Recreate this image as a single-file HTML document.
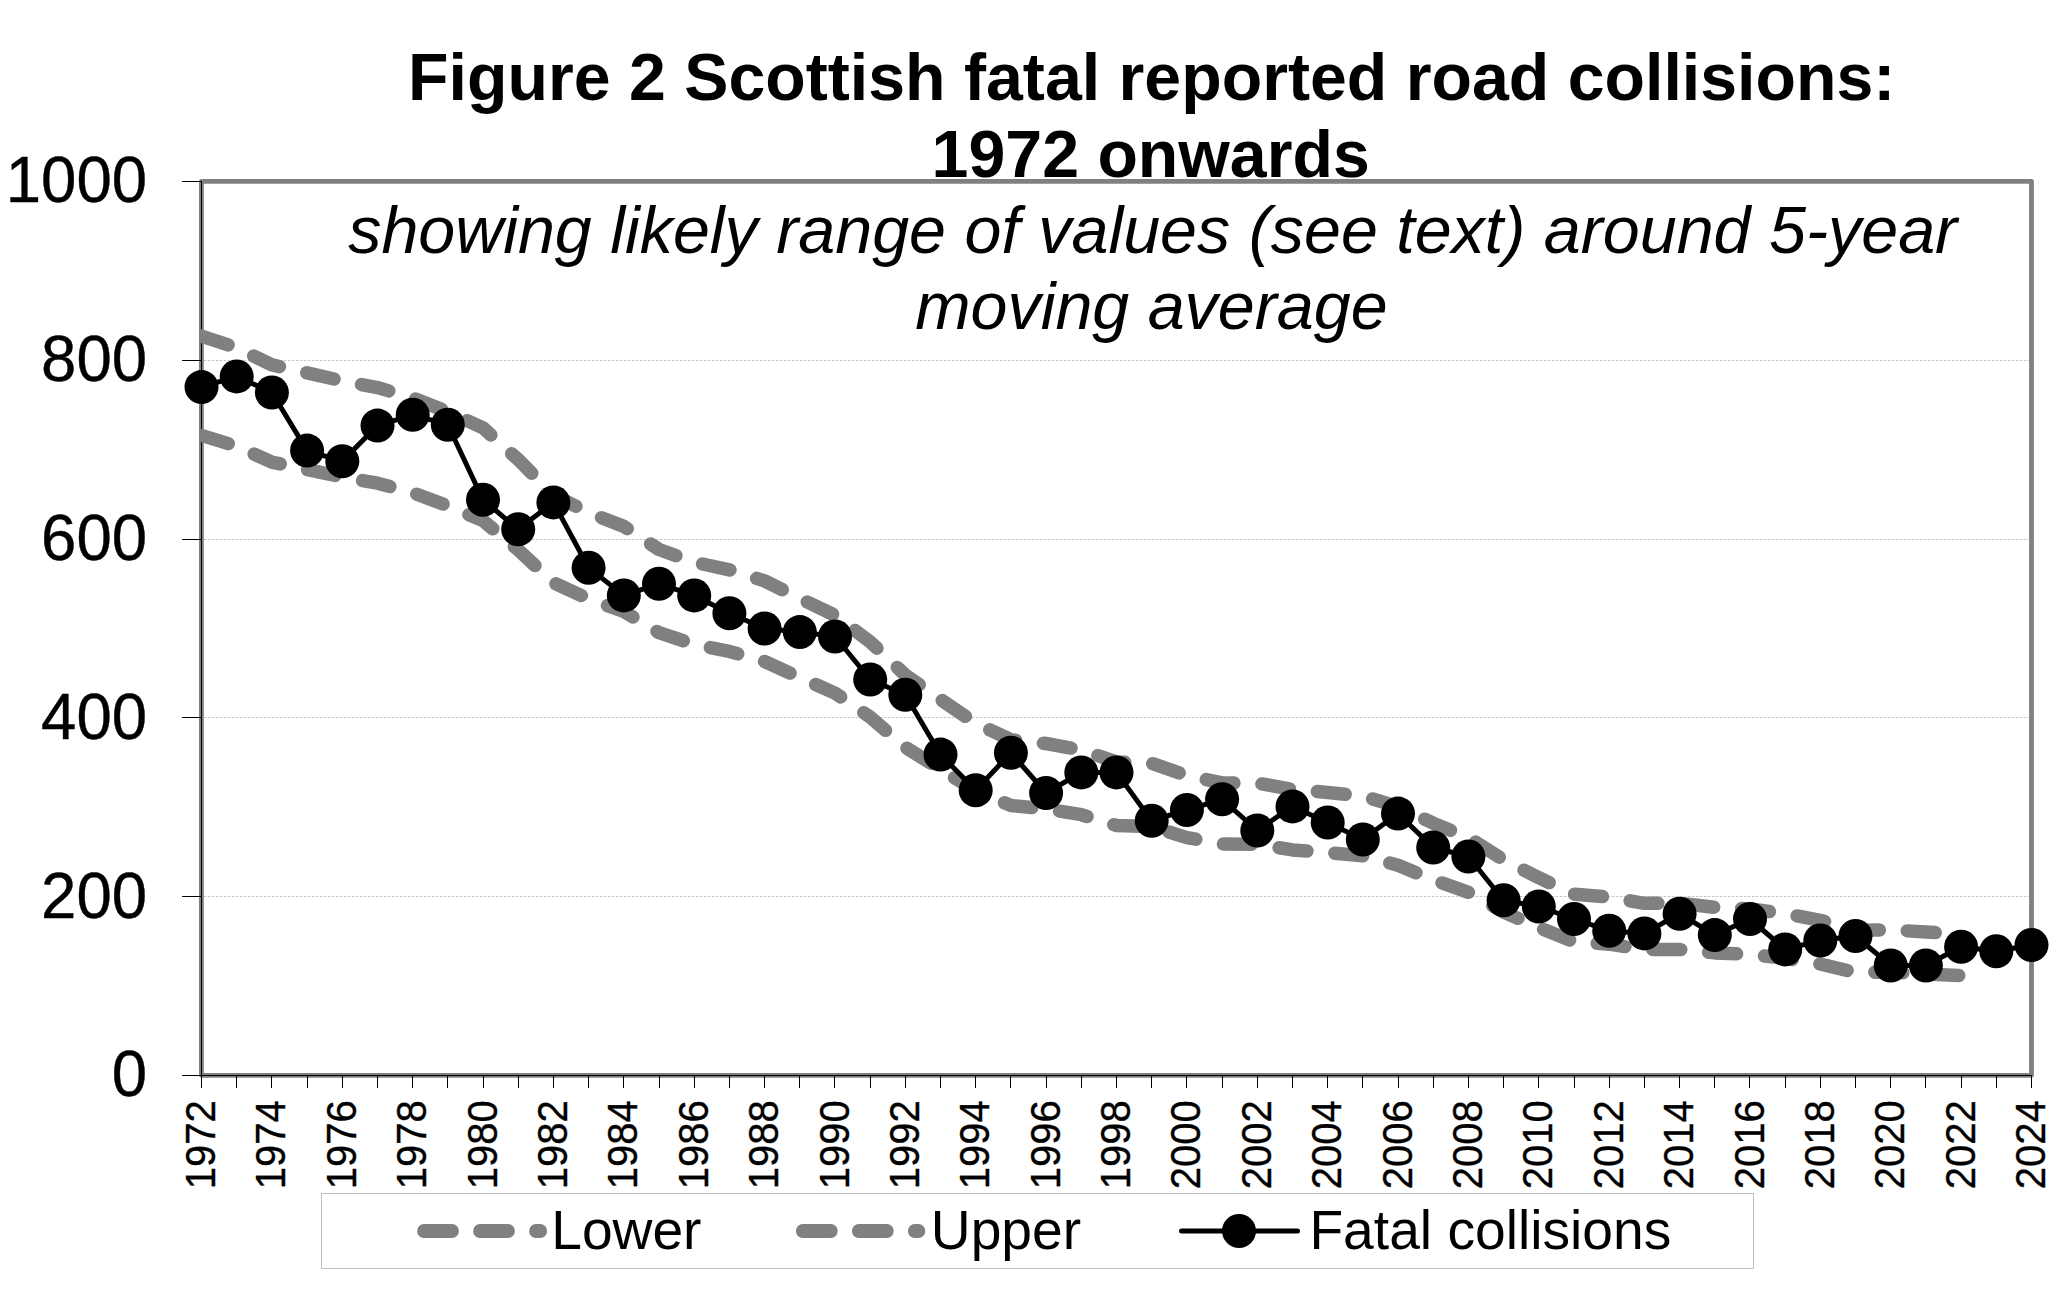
<!DOCTYPE html>
<html><head><meta charset="utf-8"><title>Figure 2 Scottish fatal reported road collisions</title>
<style>html,body{margin:0;padding:0;background:#fff}svg{display:block}text{font-family:"Liberation Sans",Arial,sans-serif;fill:#000}</style>
</head><body>
<svg width="2068" height="1307" viewBox="0 0 2068 1307">
<rect width="2068" height="1307" fill="#fff"/>
<defs><clipPath id="pa"><rect x="199" y="179" width="1835" height="899"/></clipPath></defs>
<text x="1151.7" y="100" font-size="66.25" font-weight="bold" text-anchor="middle">Figure 2 Scottish fatal reported road collisions:</text>
<text x="1150.7" y="176.7" font-size="66.25" font-weight="bold" text-anchor="middle">1972 onwards</text>
<rect x="201.4" y="181.4" width="1830.1" height="893.9" fill="none" stroke="#808080" stroke-width="4.8" stroke-linejoin="round"/>
<line x1="204" x2="2029" y1="896.5" y2="896.5" stroke="#f0f0f0" stroke-width="1"/>
<line x1="204" x2="2029" y1="896.5" y2="896.5" stroke="#c6c6c6" stroke-width="1" stroke-dasharray="2 2"/>
<line x1="204" x2="2029" y1="717.5" y2="717.5" stroke="#f0f0f0" stroke-width="1"/>
<line x1="204" x2="2029" y1="717.5" y2="717.5" stroke="#c6c6c6" stroke-width="1" stroke-dasharray="2 2"/>
<line x1="204" x2="2029" y1="539.5" y2="539.5" stroke="#f0f0f0" stroke-width="1"/>
<line x1="204" x2="2029" y1="539.5" y2="539.5" stroke="#c6c6c6" stroke-width="1" stroke-dasharray="2 2"/>
<line x1="204" x2="2029" y1="360.5" y2="360.5" stroke="#f0f0f0" stroke-width="1"/>
<line x1="204" x2="2029" y1="360.5" y2="360.5" stroke="#c6c6c6" stroke-width="1" stroke-dasharray="2 2"/>
<text x="1152.7" y="252.5" font-size="66.4" font-style="italic" text-anchor="middle">showing likely range of values (see text) around 5-year</text>
<text x="1151.4" y="329.2" font-size="66.4" font-style="italic" text-anchor="middle">moving average</text>
<g stroke="#000" stroke-width="1" shape-rendering="crispEdges">
<line x1="201.5" x2="201.5" y1="181" y2="1076"/>
<line x1="182" x2="2032" y1="1075.5" y2="1075.5"/>
<line x1="182" x2="201" y1="1075.5" y2="1075.5"/>
<line x1="182" x2="201" y1="896.5" y2="896.5"/>
<line x1="182" x2="201" y1="717.5" y2="717.5"/>
<line x1="182" x2="201" y1="539.5" y2="539.5"/>
<line x1="182" x2="201" y1="360.5" y2="360.5"/>
<line x1="182" x2="201" y1="181.5" y2="181.5"/>
<line x1="201.5" x2="201.5" y1="1076" y2="1088"/>
<line x1="236.5" x2="236.5" y1="1076" y2="1088"/>
<line x1="271.5" x2="271.5" y1="1076" y2="1088"/>
<line x1="307.5" x2="307.5" y1="1076" y2="1088"/>
<line x1="342.5" x2="342.5" y1="1076" y2="1088"/>
<line x1="377.5" x2="377.5" y1="1076" y2="1088"/>
<line x1="412.5" x2="412.5" y1="1076" y2="1088"/>
<line x1="447.5" x2="447.5" y1="1076" y2="1088"/>
<line x1="483.5" x2="483.5" y1="1076" y2="1088"/>
<line x1="518.5" x2="518.5" y1="1076" y2="1088"/>
<line x1="553.5" x2="553.5" y1="1076" y2="1088"/>
<line x1="588.5" x2="588.5" y1="1076" y2="1088"/>
<line x1="623.5" x2="623.5" y1="1076" y2="1088"/>
<line x1="659.5" x2="659.5" y1="1076" y2="1088"/>
<line x1="694.5" x2="694.5" y1="1076" y2="1088"/>
<line x1="729.5" x2="729.5" y1="1076" y2="1088"/>
<line x1="764.5" x2="764.5" y1="1076" y2="1088"/>
<line x1="799.5" x2="799.5" y1="1076" y2="1088"/>
<line x1="834.5" x2="834.5" y1="1076" y2="1088"/>
<line x1="870.5" x2="870.5" y1="1076" y2="1088"/>
<line x1="905.5" x2="905.5" y1="1076" y2="1088"/>
<line x1="940.5" x2="940.5" y1="1076" y2="1088"/>
<line x1="975.5" x2="975.5" y1="1076" y2="1088"/>
<line x1="1010.5" x2="1010.5" y1="1076" y2="1088"/>
<line x1="1046.5" x2="1046.5" y1="1076" y2="1088"/>
<line x1="1081.5" x2="1081.5" y1="1076" y2="1088"/>
<line x1="1116.5" x2="1116.5" y1="1076" y2="1088"/>
<line x1="1151.5" x2="1151.5" y1="1076" y2="1088"/>
<line x1="1186.5" x2="1186.5" y1="1076" y2="1088"/>
<line x1="1222.5" x2="1222.5" y1="1076" y2="1088"/>
<line x1="1257.5" x2="1257.5" y1="1076" y2="1088"/>
<line x1="1292.5" x2="1292.5" y1="1076" y2="1088"/>
<line x1="1327.5" x2="1327.5" y1="1076" y2="1088"/>
<line x1="1362.5" x2="1362.5" y1="1076" y2="1088"/>
<line x1="1398.5" x2="1398.5" y1="1076" y2="1088"/>
<line x1="1433.5" x2="1433.5" y1="1076" y2="1088"/>
<line x1="1468.5" x2="1468.5" y1="1076" y2="1088"/>
<line x1="1503.5" x2="1503.5" y1="1076" y2="1088"/>
<line x1="1538.5" x2="1538.5" y1="1076" y2="1088"/>
<line x1="1574.5" x2="1574.5" y1="1076" y2="1088"/>
<line x1="1609.5" x2="1609.5" y1="1076" y2="1088"/>
<line x1="1644.5" x2="1644.5" y1="1076" y2="1088"/>
<line x1="1679.5" x2="1679.5" y1="1076" y2="1088"/>
<line x1="1714.5" x2="1714.5" y1="1076" y2="1088"/>
<line x1="1749.5" x2="1749.5" y1="1076" y2="1088"/>
<line x1="1785.5" x2="1785.5" y1="1076" y2="1088"/>
<line x1="1820.5" x2="1820.5" y1="1076" y2="1088"/>
<line x1="1855.5" x2="1855.5" y1="1076" y2="1088"/>
<line x1="1890.5" x2="1890.5" y1="1076" y2="1088"/>
<line x1="1925.5" x2="1925.5" y1="1076" y2="1088"/>
<line x1="1961.5" x2="1961.5" y1="1076" y2="1088"/>
<line x1="1996.5" x2="1996.5" y1="1076" y2="1088"/>
<line x1="2031.5" x2="2031.5" y1="1076" y2="1088"/>
</g>
<text transform="translate(147,1096.3) scale(1,1.03)" font-size="63.5" text-anchor="end" stroke="#000" stroke-width="0.4">0</text>
<text transform="translate(147,917.5) scale(1,1.03)" font-size="63.5" text-anchor="end" stroke="#000" stroke-width="0.4">200</text>
<text transform="translate(147,738.7) scale(1,1.03)" font-size="63.5" text-anchor="end" stroke="#000" stroke-width="0.4">400</text>
<text transform="translate(147,559.9) scale(1,1.03)" font-size="63.5" text-anchor="end" stroke="#000" stroke-width="0.4">600</text>
<text transform="translate(147,381.1) scale(1,1.03)" font-size="63.5" text-anchor="end" stroke="#000" stroke-width="0.4">800</text>
<text transform="translate(147,202.3) scale(1,1.03)" font-size="63.5" text-anchor="end" stroke="#000" stroke-width="0.4">1000</text>
<text transform="translate(215.0,1100.3) rotate(-90) scale(1,1.04)" font-size="40" text-anchor="end" stroke="#000" stroke-width="0.35">1972</text>
<text transform="translate(285.4,1100.3) rotate(-90) scale(1,1.04)" font-size="40" text-anchor="end" stroke="#000" stroke-width="0.35">1974</text>
<text transform="translate(355.8,1100.3) rotate(-90) scale(1,1.04)" font-size="40" text-anchor="end" stroke="#000" stroke-width="0.35">1976</text>
<text transform="translate(426.2,1100.3) rotate(-90) scale(1,1.04)" font-size="40" text-anchor="end" stroke="#000" stroke-width="0.35">1978</text>
<text transform="translate(496.5,1100.3) rotate(-90) scale(1,1.04)" font-size="40" text-anchor="end" stroke="#000" stroke-width="0.35">1980</text>
<text transform="translate(566.9,1100.3) rotate(-90) scale(1,1.04)" font-size="40" text-anchor="end" stroke="#000" stroke-width="0.35">1982</text>
<text transform="translate(637.3,1100.3) rotate(-90) scale(1,1.04)" font-size="40" text-anchor="end" stroke="#000" stroke-width="0.35">1984</text>
<text transform="translate(707.7,1100.3) rotate(-90) scale(1,1.04)" font-size="40" text-anchor="end" stroke="#000" stroke-width="0.35">1986</text>
<text transform="translate(778.1,1100.3) rotate(-90) scale(1,1.04)" font-size="40" text-anchor="end" stroke="#000" stroke-width="0.35">1988</text>
<text transform="translate(848.5,1100.3) rotate(-90) scale(1,1.04)" font-size="40" text-anchor="end" stroke="#000" stroke-width="0.35">1990</text>
<text transform="translate(918.8,1100.3) rotate(-90) scale(1,1.04)" font-size="40" text-anchor="end" stroke="#000" stroke-width="0.35">1992</text>
<text transform="translate(989.2,1100.3) rotate(-90) scale(1,1.04)" font-size="40" text-anchor="end" stroke="#000" stroke-width="0.35">1994</text>
<text transform="translate(1059.6,1100.3) rotate(-90) scale(1,1.04)" font-size="40" text-anchor="end" stroke="#000" stroke-width="0.35">1996</text>
<text transform="translate(1130.0,1100.3) rotate(-90) scale(1,1.04)" font-size="40" text-anchor="end" stroke="#000" stroke-width="0.35">1998</text>
<text transform="translate(1200.4,1100.3) rotate(-90) scale(1,1.04)" font-size="40" text-anchor="end" stroke="#000" stroke-width="0.35">2000</text>
<text transform="translate(1270.8,1100.3) rotate(-90) scale(1,1.04)" font-size="40" text-anchor="end" stroke="#000" stroke-width="0.35">2002</text>
<text transform="translate(1341.2,1100.3) rotate(-90) scale(1,1.04)" font-size="40" text-anchor="end" stroke="#000" stroke-width="0.35">2004</text>
<text transform="translate(1411.5,1100.3) rotate(-90) scale(1,1.04)" font-size="40" text-anchor="end" stroke="#000" stroke-width="0.35">2006</text>
<text transform="translate(1481.9,1100.3) rotate(-90) scale(1,1.04)" font-size="40" text-anchor="end" stroke="#000" stroke-width="0.35">2008</text>
<text transform="translate(1552.3,1100.3) rotate(-90) scale(1,1.04)" font-size="40" text-anchor="end" stroke="#000" stroke-width="0.35">2010</text>
<text transform="translate(1622.7,1100.3) rotate(-90) scale(1,1.04)" font-size="40" text-anchor="end" stroke="#000" stroke-width="0.35">2012</text>
<text transform="translate(1693.1,1100.3) rotate(-90) scale(1,1.04)" font-size="40" text-anchor="end" stroke="#000" stroke-width="0.35">2014</text>
<text transform="translate(1763.5,1100.3) rotate(-90) scale(1,1.04)" font-size="40" text-anchor="end" stroke="#000" stroke-width="0.35">2016</text>
<text transform="translate(1833.8,1100.3) rotate(-90) scale(1,1.04)" font-size="40" text-anchor="end" stroke="#000" stroke-width="0.35">2018</text>
<text transform="translate(1904.2,1100.3) rotate(-90) scale(1,1.04)" font-size="40" text-anchor="end" stroke="#000" stroke-width="0.35">2020</text>
<text transform="translate(1974.6,1100.3) rotate(-90) scale(1,1.04)" font-size="40" text-anchor="end" stroke="#000" stroke-width="0.35">2022</text>
<text transform="translate(2045.0,1100.3) rotate(-90) scale(1,1.04)" font-size="40" text-anchor="end" stroke="#000" stroke-width="0.35">2024</text>
<g clip-path="url(#pa)" fill="none" stroke="#808080" stroke-width="13.5" stroke-linecap="round" stroke-linejoin="round" stroke-dasharray="28 28">
<polyline points="201.5,435.4 236.7,446.2 271.9,462.2 307.1,469.6 342.3,477.0 377.5,483.2 412.7,492.7 447.8,505.8 483.0,520.6 518.2,549.9 553.4,582.7 588.6,598.8 623.8,611.5 659.0,632.7 694.2,644.4 729.4,651.4 764.6,661.5 799.8,677.5 835.0,693.1 870.2,717.1 905.3,747.2 940.5,769.3 975.7,790.8 1010.9,805.5 1046.1,808.9 1081.3,814.7 1116.5,825.5 1151.7,826.6 1186.9,837.6 1222.1,844.0 1257.3,844.3 1292.5,849.9 1327.7,852.6 1362.8,855.8 1398.0,865.2 1433.2,879.8 1468.4,892.3 1503.6,912.0 1538.8,927.5 1574.0,941.7 1609.2,944.2 1644.4,949.5 1679.6,949.5 1714.8,952.9 1750.0,954.3 1785.2,958.4 1820.3,964.0 1855.5,972.5 1890.7,972.0 1925.9,974.0 1961.1,975.6"/>
<polyline points="201.5,336.1 236.7,347.7 271.9,364.9 307.1,372.9 342.3,380.9 377.5,387.6 412.7,397.8 447.8,411.9 483.0,427.8 518.2,459.6 553.4,495.1 588.6,512.6 623.8,526.4 659.0,549.5 694.2,562.2 729.4,569.8 764.6,580.9 799.8,598.4 835.0,615.4 870.2,641.8 905.3,675.0 940.5,699.4 975.7,723.3 1010.9,739.7 1046.1,743.5 1081.3,749.9 1116.5,762.0 1151.7,763.3 1186.9,775.6 1222.1,782.8 1257.3,783.1 1292.5,789.4 1327.7,792.4 1362.8,796.0 1398.0,806.6 1433.2,823.2 1468.4,837.4 1503.6,859.9 1538.8,877.7 1574.0,894.2 1609.2,897.1 1644.4,903.3 1679.6,903.3 1714.8,907.3 1750.0,908.9 1785.2,913.7 1820.3,920.3 1855.5,930.3 1890.7,929.8 1925.9,932.1 1961.1,934.0"/>
</g>
<polyline points="201.5,387.1 236.7,376.4 271.9,392.5 307.1,450.6 342.3,461.3 377.5,425.6 412.7,414.8 447.8,424.7 483.0,499.8 518.2,529.3 553.4,502.4 588.6,567.7 623.8,595.4 659.0,583.8 694.2,595.4 729.4,613.3 764.6,628.5 799.8,632.1 835.0,636.5 870.2,679.5 905.3,694.7 940.5,754.6 975.7,790.3 1010.9,752.8 1046.1,793.0 1081.3,772.4 1116.5,772.4 1151.7,820.7 1186.9,810.0 1222.1,799.3 1257.3,830.5 1292.5,806.4 1327.7,822.5 1362.8,839.5 1398.0,813.6 1433.2,847.5 1468.4,856.5 1503.6,900.3 1538.8,906.5 1574.0,919.0 1609.2,930.7 1644.4,933.4 1679.6,913.7 1714.8,935.1 1750.0,919.0 1785.2,949.4 1820.3,940.5 1855.5,936.0 1890.7,965.5 1925.9,965.5 1961.1,946.8 1996.3,951.2 2031.5,945.0" fill="none" stroke="#000" stroke-width="5" stroke-linejoin="round"/>
<g fill="#000">
<circle cx="201.5" cy="387.1" r="17"/>
<circle cx="236.7" cy="376.4" r="17"/>
<circle cx="271.9" cy="392.5" r="17"/>
<circle cx="307.1" cy="450.6" r="17"/>
<circle cx="342.3" cy="461.3" r="17"/>
<circle cx="377.5" cy="425.6" r="17"/>
<circle cx="412.7" cy="414.8" r="17"/>
<circle cx="447.8" cy="424.7" r="17"/>
<circle cx="483.0" cy="499.8" r="17"/>
<circle cx="518.2" cy="529.3" r="17"/>
<circle cx="553.4" cy="502.4" r="17"/>
<circle cx="588.6" cy="567.7" r="17"/>
<circle cx="623.8" cy="595.4" r="17"/>
<circle cx="659.0" cy="583.8" r="17"/>
<circle cx="694.2" cy="595.4" r="17"/>
<circle cx="729.4" cy="613.3" r="17"/>
<circle cx="764.6" cy="628.5" r="17"/>
<circle cx="799.8" cy="632.1" r="17"/>
<circle cx="835.0" cy="636.5" r="17"/>
<circle cx="870.2" cy="679.5" r="17"/>
<circle cx="905.3" cy="694.7" r="17"/>
<circle cx="940.5" cy="754.6" r="17"/>
<circle cx="975.7" cy="790.3" r="17"/>
<circle cx="1010.9" cy="752.8" r="17"/>
<circle cx="1046.1" cy="793.0" r="17"/>
<circle cx="1081.3" cy="772.4" r="17"/>
<circle cx="1116.5" cy="772.4" r="17"/>
<circle cx="1151.7" cy="820.7" r="17"/>
<circle cx="1186.9" cy="810.0" r="17"/>
<circle cx="1222.1" cy="799.3" r="17"/>
<circle cx="1257.3" cy="830.5" r="17"/>
<circle cx="1292.5" cy="806.4" r="17"/>
<circle cx="1327.7" cy="822.5" r="17"/>
<circle cx="1362.8" cy="839.5" r="17"/>
<circle cx="1398.0" cy="813.6" r="17"/>
<circle cx="1433.2" cy="847.5" r="17"/>
<circle cx="1468.4" cy="856.5" r="17"/>
<circle cx="1503.6" cy="900.3" r="17"/>
<circle cx="1538.8" cy="906.5" r="17"/>
<circle cx="1574.0" cy="919.0" r="17"/>
<circle cx="1609.2" cy="930.7" r="17"/>
<circle cx="1644.4" cy="933.4" r="17"/>
<circle cx="1679.6" cy="913.7" r="17"/>
<circle cx="1714.8" cy="935.1" r="17"/>
<circle cx="1750.0" cy="919.0" r="17"/>
<circle cx="1785.2" cy="949.4" r="17"/>
<circle cx="1820.3" cy="940.5" r="17"/>
<circle cx="1855.5" cy="936.0" r="17"/>
<circle cx="1890.7" cy="965.5" r="17"/>
<circle cx="1925.9" cy="965.5" r="17"/>
<circle cx="1961.1" cy="946.8" r="17"/>
<circle cx="1996.3" cy="951.2" r="17"/>
<circle cx="2031.5" cy="945.0" r="17"/>
</g>
<rect x="321.5" y="1193.5" width="1432" height="75" fill="#fff" stroke="#bfbfbf" stroke-width="1"/>
<g fill="none" stroke="#808080" stroke-width="13.8" stroke-linecap="round" stroke-dasharray="28 28">
<line x1="424" x2="540.2" y1="1231" y2="1231"/>
<line x1="802.8" x2="918.4" y1="1231" y2="1231"/>
</g>
<line x1="1181.5" x2="1297.5" y1="1231" y2="1231" stroke="#000" stroke-width="5" stroke-linecap="round"/>
<circle cx="1239" cy="1231" r="17" fill="#000"/>
<text x="551.2" y="1249" font-size="55.2">Lower</text>
<text x="930.8" y="1249" font-size="55.2">Upper</text>
<text x="1309.4" y="1249" font-size="55.2">Fatal collisions</text>
</svg></body></html>
